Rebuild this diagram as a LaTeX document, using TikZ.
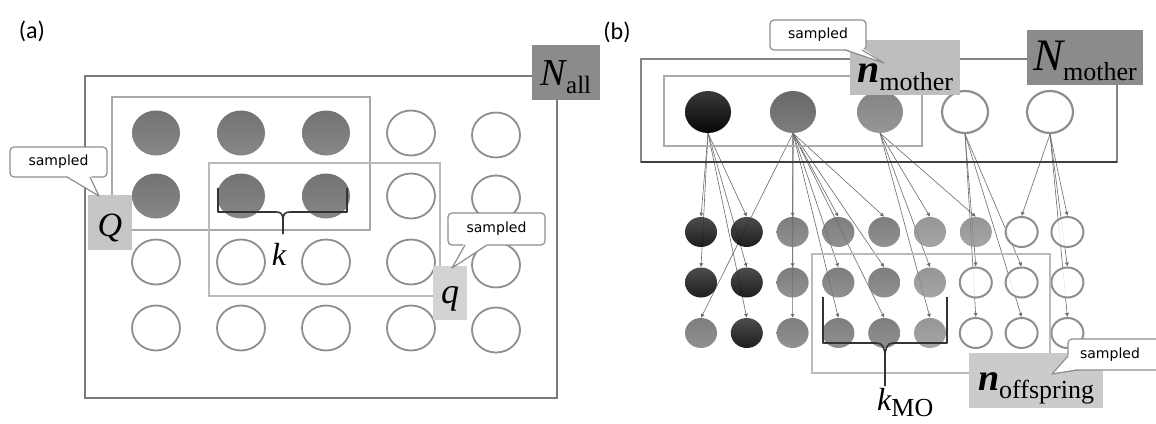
\documentclass[tikz,border=0pt]{standalone}
\usepackage{fontspec}
\setmainfont{Liberation Serif}
\newfontfamily\calloutfont{DejaVu Sans}
\newfontfamily\panelfont{Carlito}
\usetikzlibrary{shapes.geometric,arrows.meta}
\definecolor{cDark}{HTML}{8B8B8B}
\definecolor{cLightQ}{HTML}{C6C6C6}
\definecolor{cLightq}{HTML}{D3D3D3}
\definecolor{cLightM}{HTML}{BEBEBE}
\definecolor{cLightO}{HTML}{CBCBCB}
\definecolor{cEdge}{HTML}{8E8E8E}
\definecolor{cGa1}{HTML}{737373}
\definecolor{cGa2}{HTML}{878787}
\definecolor{cBk1}{HTML}{3A3A3A}
\definecolor{cBk2}{HTML}{050505}
\definecolor{cGr1}{HTML}{686868}
\definecolor{cGr2}{HTML}{7E7E7E}
\definecolor{cLt1}{HTML}{848484}
\definecolor{cLt2}{HTML}{969696}
\definecolor{cArr}{HTML}{6A6A6A}
\newcommand\mylbl[5]{{\fontsize{#1}{#1}\selectfont\itshape #2}\raisebox{-#5pt}{\fontsize{#3}{#3}\selectfont #4}}
\pgfdeclarelayer{bg}
\pgfsetlayers{bg,main}
\begin{document}
\begin{tikzpicture}[x=1pt,y=-1pt,
  acirc/.style={ellipse,inner sep=0pt,minimum width=48pt,minimum height=45pt},
  afill/.style={acirc,draw=none,top color=cGa1,bottom color=cGa2},
  aempty/.style={acirc,draw=cEdge,line width=1.8pt,fill=white},
  mcirc/.style={ellipse,inner sep=0pt,minimum width=46pt,minimum height=42pt},
  ocirc/.style={ellipse,inner sep=0pt,minimum width=32pt,minimum height=30pt},
  mbk/.style={mcirc,draw=none,top color=cBk1,bottom color=cBk2},
  mgr/.style={mcirc,draw=none,top color=cGr1,bottom color=cGr2},
  mlt/.style={mcirc,draw=none,top color=cLt1,bottom color=cLt2},
  mwh/.style={mcirc,draw=cEdge,line width=2.2pt,fill=white},
  offbk/.style={ocirc,draw=none,top color=cBk1,bottom color=cBk2,fill opacity=0.9},
  offgr/.style={ocirc,draw=none,top color=cGr1,bottom color=cGr2,fill opacity=0.85},
  offlt/.style={ocirc,draw=none,top color=cLt1,bottom color=cLt2,fill opacity=0.85},
  offwh/.style={ocirc,draw=cEdge,line width=2pt,fill=white,fill opacity=0.85},
  lbl/.style={rectangle,inner sep=0pt,draw=none},
  samp/.style={inner sep=0pt,font=\calloutfont\fontsize{14}{14}\selectfont},
  cbox/.style={draw=cEdge,line width=1.2pt,fill=white,rounded corners=4pt},
  cedge/.style={draw=cEdge,line width=1.2pt},
  arr/.style={draw=cArr,line width=0.6pt,-{Latex[length=4pt,width=4pt]}},
  brc/.style={draw=black!80,line width=1.6pt,line join=round},
  panel/.style={inner sep=0pt,font=\panelfont\fontsize{24}{24}\selectfont}
]
\begin{pgfonlayer}{bg}
\fill[white] (0,0) rectangle (1156,423);
\end{pgfonlayer}
\useasboundingbox (0,0) rectangle (1156,423);

% ---------------- panel (a)
\node[panel] (pa) at (32,31) {(a)};
\draw[draw=black!52,line width=1.8pt] (85,76) rectangle (557,398);
\draw[draw=black!34,line width=1.8pt] (112,97) rectangle (370,230);
\draw[draw=black!27,line width=1.6pt] (209,163) rectangle (440,296);

\node[afill] (a11) at (156,133) {};
\node[afill] (a12) at (241,133) {};
\node[afill] (a13) at (326,133) {};
\node[aempty] (a14) at (411,133) {};
\node[aempty] (a15) at (496,135) {};
\node[afill] (a21) at (156,196) {};
\node[afill] (a22) at (241,196) {};
\node[afill] (a23) at (326,196) {};
\node[aempty] (a24) at (411,196) {};
\node[aempty] (a25) at (496,198) {};
\node[aempty] (a31) at (156,262) {};
\node[aempty] (a32) at (241,262) {};
\node[aempty] (a33) at (326,262) {};
\node[aempty] (a34) at (411,262) {};
\node[aempty] (a35) at (496,265) {};
\node[aempty] (a41) at (156,328) {};
\node[aempty] (a42) at (241,328) {};
\node[aempty] (a43) at (326,328) {};
\node[aempty] (a44) at (411,328) {};
\node[aempty] (a45) at (496,330) {};

% brace k
\draw[brc] (218,188) -- (218,212) -- (276,212) .. controls (281,212) and (283,214) .. (283,220) -- (283,234);
\draw[brc] (347,188) -- (347,212) -- (290,212) .. controls (285,212) and (283,214) .. (283,220);
\node[anchor=base,inner sep=0pt] (kl) at (279,265) {\fontsize{32}{32}\selectfont\itshape k};

% label boxes
\node[lbl,fill=cDark,minimum width=68pt,minimum height=55pt,text height=33pt,text depth=8pt] (Nall) at (566,72.5) {\mylbl{38}{N}{25}{all}{8}};
\node[lbl,fill=cLightQ,minimum width=44pt,minimum height=55pt,text height=30pt,text depth=3pt] (Qb) at (110,222.5) {\fontsize{34}{34}\selectfont\itshape Q};
\node[lbl,fill=cLightq,minimum width=34pt,minimum height=54pt,text height=26pt,text depth=6pt] (qb) at (450,293) {\fontsize{36}{36}\selectfont\itshape q};

% callouts (a)
\path[cbox] (10,147) rectangle (107,177);
\fill[white] (66,175.5) -- (99,196) -- (91,175.5) -- cycle;
\draw[cedge,line join=round] (67,177) -- (99,196) -- (90,177);
\node[samp] (s1) at (58.5,161.5) {sampled};

\path[cbox] (448,213) rectangle (545,245);
\fill[white] (464,243.5) -- (452,268) -- (488,243.5) -- cycle;
\draw[cedge,line join=round] (465,245) -- (452,268) -- (487,245);
\node[samp] (s2) at (496.5,228.5) {sampled};

% ---------------- panel (b)
\node[panel] (pb) at (617,32) {(b)};
\draw[draw=black!48,line width=1.8pt] (641,59) rectangle (1117,162);
\draw[draw=black!75,line width=1.8pt] (641,162) -- (1117,162);
\draw[draw=black!33,line width=2.2pt] (664,76) rectangle (922,146);

\node[mbk] (m1) at (708,112) {};
\node[mgr] (m2) at (793,112) {};
\node[mlt] (m3) at (880,112) {};
\node[mwh] (m4) at (965,112) {};
\node[mwh] (m5) at (1050,112) {};

\foreach \r/\c/\s in {1/1/bk,1/2/bk,1/3/gr,1/4/gr,1/5/gr,1/6/lt,1/7/lt,1/8/wh,1/9/wh,
                      2/1/bk,2/2/bk,2/3/gr,2/4/gr,2/5/gr,2/6/lt,2/7/wh,2/8/wh,2/9/wh,
                      3/1/gr,3/2/bk,3/3/gr,3/4/gr,3/5/gr,3/6/lt,3/7/wh,3/8/wh,3/9/wh}
  \node[off\s] (o\r\c) at ({701+45.8*(\c-1)},{232+50.5*(\r-1)}) {};

\begin{pgfonlayer}{bg}
\foreach \m/\r/\c in {1/1/1,1/2/1,1/1/2,1/2/2,1/3/2,
                      2/3/1,2/1/3,2/2/3,2/3/3,2/1/4,2/2/4,2/3/4,2/1/5,2/2/5,2/3/5,
                      3/1/6,3/2/6,3/3/6,3/1/7,
                      4/2/7,4/3/7,4/2/8,4/3/8,
                      5/1/8,5/1/9,5/2/9,5/3/9}
  \draw[arr] (m\m.south) -- (o\r\c.north);
\end{pgfonlayer}

\draw[draw=black!27,line width=2.2pt] (812,254) rectangle (1050,373);

% brace k_MO
\draw[brc] (823,297) -- (823,343) -- (877,343) .. controls (883,343) and (885,349) .. (885,357) -- (885,386);
\draw[brc] (947,297) -- (947,343) -- (893,343) .. controls (887,343) and (885,349) .. (885,357);
\node[anchor=base west,inner sep=0pt] (kmo) at (877,410) {\mylbl{32}{k}{26}{MO}{6}};

% label boxes (b)
\node[lbl,fill=cLightM,minimum width=110pt,minimum height=55pt,text height=37pt,text depth=8pt] (nm) at (905,67.5) {\mylbl{40}{\bfseries n}{26}{mother}{8}};
\node[lbl,fill=cDark,minimum width=116pt,minimum height=55pt,text height=35pt,text depth=10pt] (Nm) at (1085,57.5) {\mylbl{45}{N}{26}{mother}{10}};
\node[lbl,fill=cLightO,minimum width=134pt,minimum height=55pt,text height=28pt,text depth=9pt] (no) at (1036,380.5) {\mylbl{38}{\bfseries n}{26}{offspring}{8}};

% callouts (b)
\path[cbox] (770,20) rectangle (866,50);
\fill[white] (844,48.5) -- (884,63) -- (863,48.5) -- cycle;
\draw[cedge,line join=round] (845,50) -- (884,63) -- (862,50);
\node[samp] (s3) at (818,35) {sampled};

\path[cbox] (1068,339) rectangle (1166,370);
\fill[white] (1069.5,354) -- (1052,374) -- (1080,368.5) -- (1069.5,368.5) -- cycle;
\draw[cedge,line join=round] (1068,356) -- (1052,374) -- (1078,370);
\node[samp] (s4) at (1110,354.5) {sampled};
\end{tikzpicture}
\end{document}
